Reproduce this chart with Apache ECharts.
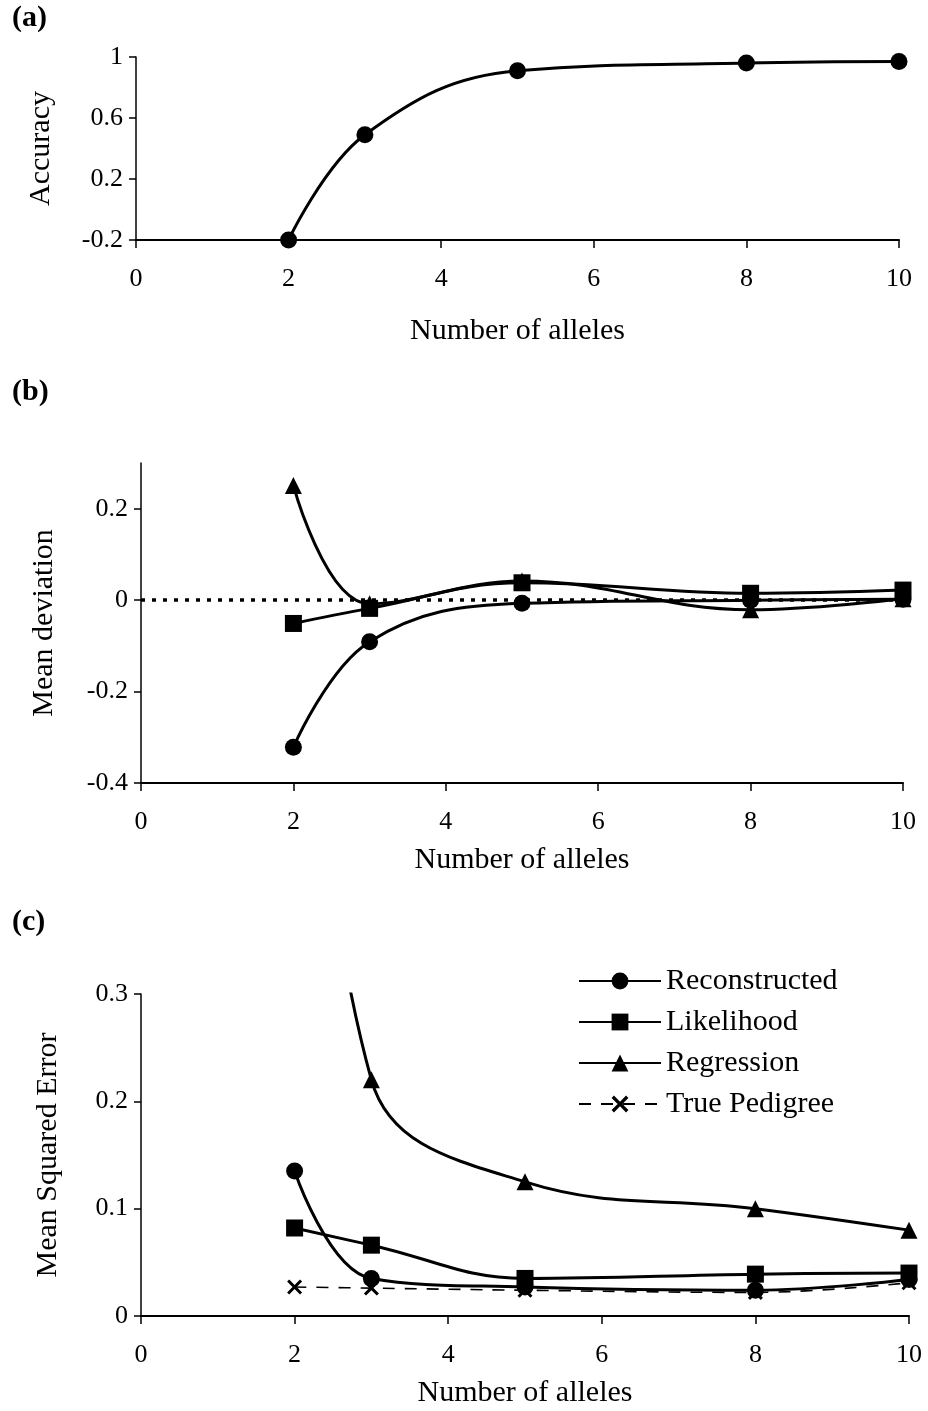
<!DOCTYPE html>
<html>
<head>
<meta charset="utf-8">
<script src="https://cdn.jsdelivr.net/npm/echarts@6/dist/echarts.min.js"></script>
<style>
  html, body { margin: 0; padding: 0; background: #fff; }
  #chart { width: 928px; height: 1411px; }
</style>
</head>
<body>
<div id="chart"></div>
<script>
// Number of alleles at each simulated locus
const alleles = [2, 3, 5, 8, 10];

// (a) accuracy of the reconstruction
const accuracy = [-0.2, 0.49, 0.91, 0.96, 0.97];

// (b) mean deviation of the estimates
const devReconstructed = [-0.322, -0.091, -0.007, 0.0, 0.002];
const devLikelihood = [-0.051, -0.018, 0.038, 0.015, 0.022];
const devRegression = [0.251, -0.008, 0.042, -0.021, 0.003];

// (c) mean squared error of the estimates
const mseReconstructed = [0.135, 0.035, 0.027, 0.024, 0.034];
const mseLikelihood = [0.082, 0.066, 0.035, 0.039, 0.040];
const mseRegression = [0.9, 0.220, 0.125, 0.100, 0.080];
const mseTruePedigree = [0.027, 0.026, 0.024, 0.022, 0.031];

// Axis tick values
const accuracyTicks = [-0.2, 0.2, 0.6, 1];
const deviationTicks = [-0.4, -0.2, 0, 0.2];
const mseTicks = [0, 0.1, 0.2, 0.3];

const FONT = '"Liberation Serif", "DejaVu Serif", "Times New Roman", serif';
const pairs = ys => alleles.map((x, i) => [x, ys[i]]);

// filled "x" marker
const crossPath = 'path://M0,1.4L1.4,0L5,3.6L8.6,0L10,1.4L6.4,5L10,8.6L8.6,10L5,6.4L1.4,10L0,8.6L3.6,5Z';

function xAxis(gridIndex, labelMargin, nameGap) {
  return {
    type: 'value', gridIndex, min: 0, max: 10, interval: 2,
    name: 'Number of alleles', nameLocation: 'middle', nameGap,
    nameTextStyle: { fontFamily: FONT, fontSize: 30, color: '#000' },
    axisLine: { onZero: false, lineStyle: { color: '#000', width: 2 } },
    axisTick: { length: 8, lineStyle: { color: '#000', width: 1.5 } },
    axisLabel: { fontFamily: FONT, fontSize: 26, color: '#000', margin: labelMargin },
    splitLine: { show: false }
  };
}

function yAxis(gridIndex, min, max, ticks, name, nameGap) {
  return {
    type: 'value', gridIndex, min, max,
    name, nameLocation: 'middle', nameGap,
    nameTextStyle: { fontFamily: FONT, fontSize: 30, color: '#000' },
    axisLine: { show: true, onZero: false, lineStyle: { color: '#000', width: 1.5 } },
    axisTick: { show: true, length: 7, customValues: ticks, lineStyle: { color: '#000', width: 1.5 } },
    axisLabel: { fontFamily: FONT, fontSize: 26, color: '#000', margin: 13,
                 customValues: ticks, formatter: v => String(+v.toFixed(2)) },
    splitLine: { show: false }
  };
}

function lineSeries(name, data, symbol, idx, extra) {
  return Object.assign({
    name, type: 'line', xAxisIndex: idx, yAxisIndex: idx,
    data: pairs(data), smooth: 0.4, symbol, symbolSize: 17,
    lineStyle: { color: '#000', width: 3 },
    itemStyle: { color: '#000' },
    emphasis: { disabled: true }, animation: false, clip: true
  }, extra || {});
}

const chart = echarts.init(document.getElementById('chart'), null, { renderer: 'canvas' });

chart.setOption({
  backgroundColor: '#fff',
  animation: false,
  title: [
    { text: '(a)', left: 12, top: 3 },
    { text: '(b)', left: 12, top: 377 },
    { text: '(c)', left: 12, top: 907 }
  ].map(t => Object.assign(t, { padding: 0, textStyle: { fontFamily: FONT, fontSize: 30, fontWeight: 'bold', color: '#000' } })),
  legend: {
    data: ['Reconstructed', 'Likelihood', 'Regression', 'True Pedigree'],
    orient: 'vertical', left: 578, top: 965, padding: 0,
    itemGap: 9, itemWidth: 82, itemHeight: 21,
    textStyle: { fontFamily: FONT, fontSize: 30, color: '#000', lineHeight: 32 },
    selectedMode: false
  },
  grid: [
    { left: 136, width: 763, top: 57, height: 183 },
    { left: 141, width: 762, top: 463, height: 320 },
    { left: 141, width: 768, top: 994, height: 322 }
  ],
  xAxis: [xAxis(0, 26, 76), xAxis(1, 26, 62), xAxis(2, 26, 62)],
  yAxis: [
    yAxis(0, -0.2, 1, accuracyTicks, 'Accuracy', 80),
    yAxis(1, -0.4, 0.3, deviationTicks, 'Mean deviation', 82),
    yAxis(2, 0, 0.3, mseTicks, 'Mean Squared Error', 78)
  ],
  series: [
    lineSeries('Accuracy', accuracy, 'circle', 0),

    lineSeries('Reconstructed', devReconstructed, 'circle', 1, {
      markLine: {
        silent: true, symbol: 'none', label: { show: false },
        lineStyle: { color: '#000', type: [4, 7], width: 3.5 },
        data: [{ yAxis: 0 }]
      }
    }),
    lineSeries('Likelihood', devLikelihood, 'rect', 1),
    lineSeries('Regression', devRegression, 'triangle', 1),

    lineSeries('Reconstructed', mseReconstructed, 'circle', 2),
    lineSeries('Likelihood', mseLikelihood, 'rect', 2),
    lineSeries('Regression', mseRegression, 'triangle', 2),
    lineSeries('True Pedigree', mseTruePedigree, crossPath, 2, {
      symbolSize: 15,
      lineStyle: { color: '#000', width: 1.6, type: [12, 10] }
    })
  ]
});
</script>
</body>
</html>
